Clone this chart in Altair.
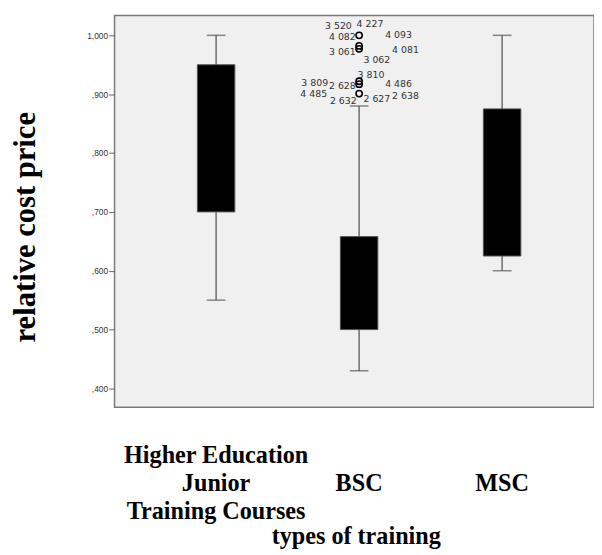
import altair as alt
import pandas as pd

# ---- data ----
positions = [1, 2, 3]
cat_lines = [["Higher Education", "Junior", "Training Courses"], ["BSC"], ["MSC"]]
whisker_low = [0.550, 0.430, 0.600]
q1 = [0.700, 0.500, 0.625]
q3 = [0.950, 0.658, 0.875]
whisker_high = [1.000, 0.880, 1.000]

# outliers of BSC (x = 2)
outlier_values = [1.000, 0.982, 0.977, 0.922, 0.917, 0.901]

# case labels: text, value of the outlier it belongs to
case_labels = ["3 520", "4 227", "4 082", "4 093",
               "3 061", "4 081", "3 062",
               "3 810", "3 809", "2 628", "4 486",
               "4 485", "2 638", "2 632", "2 627"]
case_values = [1.000, 1.000, 1.000, 1.000,
               0.982, 0.982, 0.982,
               0.922, 0.922, 0.922, 0.922,
               0.901, 0.901, 0.901, 0.901]
# label placement offsets (pixels) around the outlier
label_dx = [-21, 11, -17, 40, -17, 47, 18, 12, -45, -17, 40, -46, 47, -16, 18]
label_dy = [-9, -11, 2, 0, 6, 4, 14, -6, 2, 5, 3, 0, 2, 8, 6]

y_ticks = [0.4, 0.5, 0.6, 0.7, 0.8, 0.9, 1.0]

box_df = pd.DataFrame({"x": positions, "lo": whisker_low, "q1": q1,
                       "q3": q3, "hi": whisker_high})
out_df = pd.DataFrame({"x": [2] * len(outlier_values), "v": outlier_values})

W, H = 486, 397
xscale = alt.Scale(domain=[0.3243, 3.608], nice=False, zero=False)
yscale = alt.Scale(domain=[0.368, 1.0335], nice=False, zero=False)

X = alt.X("x:Q", scale=xscale, axis=None)

yaxis = alt.Axis(
    values=y_ticks,
    labelExpr="datum.value >= 1 ? '1,000' : replace(format(datum.value, '.3f'), '0.', ',')",
    grid=False, domain=False, tickSize=6, tickColor="#666", tickWidth=1,
    labelFont="Liberation Sans", labelFontSize=8.5, labelColor="#333", labelPadding=1,
    title="relative cost price", titleFont="Liberation Serif", titleFontSize=31,
    titleFontWeight="bold", titleColor="black", titleAngle=-90,
    titleX=-90, titleY=214, titleAlign="center", titleBaseline="middle",
)

whisker = alt.Chart(box_df).mark_rule(color="#6b6b6b", strokeWidth=1.5).encode(
    x=X, y=alt.Y("lo:Q", scale=yscale, axis=yaxis), y2="hi:Q")

cap_lo = alt.Chart(box_df).mark_tick(orient="horizontal", size=19, thickness=1.5,
                                     color="#555").encode(x="x:Q", y="lo:Q")
cap_hi = alt.Chart(box_df).mark_tick(orient="horizontal", size=19, thickness=1.5,
                                     color="#555").encode(x="x:Q", y="hi:Q")

boxes = alt.Chart(box_df).mark_bar(size=38, color="black", stroke="#555",
                                   strokeWidth=1).encode(x="x:Q", y="q1:Q", y2="q3:Q")

outliers = alt.Chart(out_df).mark_point(shape="circle", filled=False, color="black",
                                        size=40, strokeWidth=1.6, opacity=1).encode(
    x="x:Q", y="v:Q")

layers = [whisker, cap_lo, cap_hi, boxes, outliers]

for lab, val, dx, dy in zip(case_labels, case_values, label_dx, label_dy):
    d = pd.DataFrame({"x": [2], "v": [val]})
    layers.append(alt.Chart(d).mark_text(text=lab, dx=dx, dy=dy, font="DejaVu Sans",
                                         fontSize=9.5, color="#333",
                                         baseline="middle", align="center").encode(
        x="x:Q", y="v:Q"))

# category labels below the plot
for pos, lines in zip(positions, cat_lines):
    d = pd.DataFrame({"x": [pos]})
    ypix = 454 if len(lines) > 1 else 482
    layers.append(alt.Chart(d).mark_text(font="Liberation Serif", fontSize=24.5,
                                         fontWeight="bold", color="black",
                                         lineHeight=28, align="center",
                                         baseline="alphabetic").encode(
        x="x:Q", y=alt.value(ypix), text=alt.value(lines if len(lines) > 1 else lines[0])))

layers.append(alt.Chart(pd.DataFrame({"t": ["types of training"]})).mark_text(
    font="Liberation Serif", fontSize=24.5, fontWeight="bold", color="black",
    align="center", baseline="alphabetic").encode(
    x=alt.value(245), y=alt.value(536), text="t:N"))

chart = alt.layer(*layers).properties(
    width=W, height=H,
    background="white",
    padding={"left": 108, "top": 4, "right": 0, "bottom": 143},
    autosize=alt.AutoSizeParams(type="none"),
).configure_view(fill="#f0f0f0", stroke="#7a7a7a", strokeWidth=1.5)

chart.save("out.html", embed_options={"renderer": "svg", "actions": False})
